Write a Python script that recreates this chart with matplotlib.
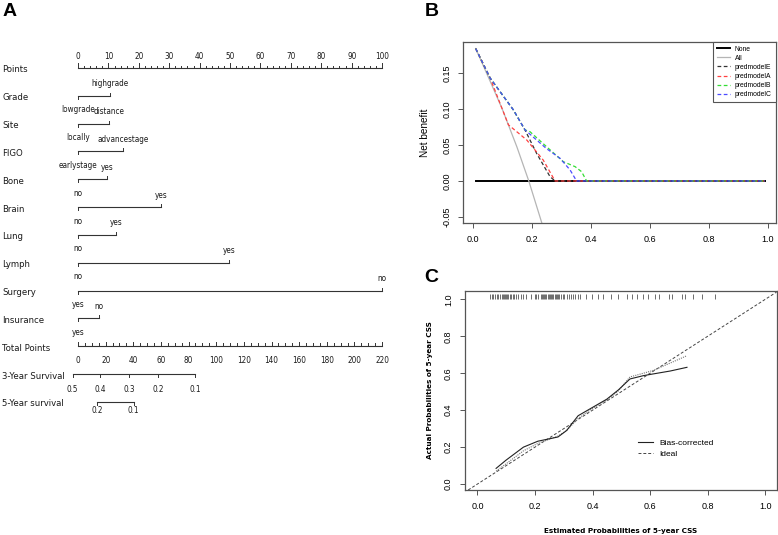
import matplotlib.pyplot as plt
import numpy as np
from matplotlib.lines import Line2D

plt.rcParams['font.family'] = ['Liberation Sans', 'DejaVu Sans']

# ---------------- A: nomogram ----------------
row_names = ['Points', 'Grade', 'Site', 'FIGO', 'Bone', 'Brain', 'Lung', 'Lymph',
             'Surgery', 'Insurance', 'Total Points', '3-Year Survival', '5-Year survival']
var_levels = [['lowgrade', 'highgrade'], ['locally', 'distance'], ['earlystage', 'advancestage'],
              ['no', 'yes'], ['no', 'yes'], ['no', 'yes'], ['no', 'yes'],
              ['yes', 'no'], ['yes', 'no']]
var_points = [[0, 10.5], [0, 10.2], [0, 14.9], [0, 9.6], [0, 27.2], [0, 12.4], [0, 49.6],
              [0, 100], [0, 6.9]]
points_ticks = np.arange(0, 101, 10)
total_ticks = np.arange(0, 221, 20)
max_total = 220
surv3_labels = ['0.5', '0.4', '0.3', '0.2', '0.1']
surv3_total = [-3.9, 16.1, 37.1, 58.1, 84.9]
surv5_labels = ['0.2', '0.1']
surv5_total = [13.7, 40.2]

# ---------------- B: decision curves ----------------
thr_none = [0.01, 0.99]
nb_none = [0, 0]
thr_all = [0.01, 0.05, 0.10, 0.15, 0.19, 0.24]
nb_all = [0.184, 0.147, 0.10, 0.047, 0.0, -0.066]
thr_E = [0.01, 0.059, 0.138, 0.177, 0.217, 0.262, 0.279, 0.99]
nb_E = [0.184, 0.143, 0.0986, 0.071, 0.038, 0.006, 0.0, 0.0]
thr_A = [0.01, 0.059, 0.121, 0.183, 0.239, 0.279, 0.99]
nb_A = [0.184, 0.143, 0.078, 0.057, 0.029, 0.0, 0.0]
thr_B = [0.01, 0.059, 0.138, 0.177, 0.194, 0.25, 0.307, 0.347, 0.369, 0.386, 0.99]
nb_B = [0.184, 0.143, 0.0986, 0.071, 0.0685, 0.0477, 0.0268, 0.0199, 0.0129, 0.0, 0.0]
thr_C = [0.01, 0.059, 0.138, 0.177, 0.25, 0.296, 0.33, 0.352, 0.99]
nb_C = [0.184, 0.143, 0.0986, 0.071, 0.045, 0.0315, 0.0153, 0.0, 0.0]

# ---------------- C: calibration ----------------
cal_x = [0.065, 0.10, 0.16, 0.21, 0.28, 0.31, 0.35, 0.40, 0.45, 0.49, 0.53, 0.577, 0.61, 0.67, 0.728]
cal_bias = [0.085, 0.13, 0.20, 0.232, 0.255, 0.29, 0.37, 0.415, 0.46, 0.51, 0.569, 0.587, 0.596, 0.612, 0.632]
cal_app = [0.07, 0.11, 0.18, 0.22, 0.26, 0.29, 0.355, 0.41, 0.455, 0.505, 0.58, 0.60, 0.615, 0.655, 0.695]
rug_x = [0.045, 0.05, 0.055, 0.06, 0.068, 0.072, 0.078, 0.085, 0.088, 0.092, 0.096, 0.10,
         0.104, 0.108, 0.112, 0.118, 0.122, 0.128, 0.135, 0.142, 0.15, 0.158, 0.17, 0.186,
         0.2, 0.205, 0.212, 0.22, 0.224, 0.228, 0.232, 0.236, 0.24, 0.244, 0.248, 0.252,
         0.256, 0.26, 0.264, 0.268, 0.272, 0.276, 0.28, 0.285, 0.29, 0.296, 0.302, 0.31,
         0.318, 0.325, 0.332, 0.34, 0.348, 0.357, 0.378, 0.398, 0.42, 0.435, 0.464, 0.49,
         0.519, 0.537, 0.556, 0.577, 0.594, 0.618, 0.632, 0.664, 0.676, 0.71, 0.722, 0.75,
         0.78, 0.826]

fig = plt.figure(figsize=(7.78, 5.35), dpi=100)
arial = 'Liberation Sans'

# ===== panel A =====
axA = fig.add_axes([0, 1 - 420 / 535, 400 / 778, 420 / 535])
axA.set_xlim(-25.66, 105.9)
axA.set_ylim(12.648, -2.443)
axA.axis('off')
px = 1 / 27.83  # one pixel in row units
lc = '#333333'
fsA = 6.8
fsT = 5.9
nar = dict(family='DejaVu Sans', fontstretch='condensed', color='#1a1a1a')

for i, name in enumerate(row_names):
    axA.text(-25.0, i + 2 * px, name, ha='left', va='center', fontsize=fsA, **nar)

# points scale
axA.plot([0, 100], [0, 0], color=lc, lw=0.8)
for v in np.arange(0, 101, 2):
    ln = 4.7 * px if v % 10 == 0 else 2.3 * px
    axA.plot([v, v], [0, -ln], color=lc, lw=0.7)
for v in points_ticks:
    axA.text(v, -11 * px, str(v), ha='center', va='center', fontsize=fsT, **nar)

# variables
for k, (levels, pts) in enumerate(zip(var_levels, var_points)):
    r = k + 1
    axA.plot([min(pts), max(pts)], [r, r], color=lc, lw=0.8)
    axA.plot([pts[0], pts[0]], [r, r + 3 * px], color=lc, lw=0.7)
    axA.plot([pts[1], pts[1]], [r, r - 3 * px], color=lc, lw=0.7)
    axA.text(pts[0], r + 14 * px, levels[0], ha='center', va='center', fontsize=fsT, **nar)
    axA.text(pts[1], r - 12 * px, levels[1], ha='center', va='center', fontsize=fsT, **nar)

# total points
r = 10
axA.plot([0, 100], [r, r], color=lc, lw=0.8)
for v in np.arange(0, max_total + 1, 5):
    ln = 4 * px if v % 20 == 0 else 3 * px
    axA.plot([v * 100 / max_total] * 2, [r, r - ln], color=lc, lw=0.7)
for v in total_ticks:
    axA.text(v * 100 / max_total, r + 14 * px, str(v), ha='center', va='center',
             fontsize=fsT, **nar)

# survival scales
for r, labs, tot, off in [(11, surv3_labels, surv3_total, 15), (12, surv5_labels, surv5_total, 9)]:
    xs = [t * 100 / max_total for t in tot]
    axA.plot([xs[0], xs[-1]], [r, r], color=lc, lw=0.8)
    for x, lab in zip(xs, labs):
        axA.plot([x, x], [r, r + 3 * px], color=lc, lw=0.7)
        axA.text(x, r + off * px, lab, ha='center', va='center', fontsize=fsT, **nar)

# ===== panel B =====
spine_c = '#555555'
axB = fig.add_axes([463.3 / 778, 1 - 223.3 / 535, 312.4 / 778, 181.6 / 535])
dash = (0, (3, 2))
axB.plot(thr_none, nb_none, color='black', lw=1.4, label='None')
axB.plot(thr_all, nb_all, color='#b5b5b5', lw=0.9, label='All')
axB.plot(thr_E, nb_E, color='#333333', lw=0.9, ls=dash, label='predmodelE')
axB.plot(thr_A, nb_A, color='#ff4040', lw=0.9, ls=dash, label='predmodelA')
axB.plot(thr_B, nb_B, color='#33dd33', lw=0.9, ls=dash, label='predmodelB')
axB.plot(thr_C, nb_C, color='#4b4bff', lw=0.9, ls=dash, label='predmodelC')
axB.set_xlim(-0.032, 1.027)
axB.set_ylim(-0.0588, 0.1935)
axB.set_xticks([0, 0.2, 0.4, 0.6, 0.8, 1.0])
axB.set_xticklabels(['0.0', '0.2', '0.4', '0.6', '0.8', '1.0'], family=arial)
axB.set_yticks([-0.05, 0, 0.05, 0.10, 0.15])
axB.set_yticklabels(['-0.05', '0.00', '0.05', '0.10', '0.15'], rotation=90, va='center',
                    family=arial)
axB.set_ylabel('Net benefit', fontsize=7.2, family=arial)
axB.yaxis.set_label_coords(-0.107, 0.5)
leg = axB.legend(loc='upper right', borderaxespad=0, handlelength=1.9,
                 handletextpad=0.7, labelspacing=0.3, fancybox=False, framealpha=1,
                 borderpad=0.6, prop={'size': 4.9, 'family': arial})
leg.get_frame().set_edgecolor(spine_c)
leg.get_frame().set_linewidth(0.8)

# ===== panel C =====
axC = fig.add_axes([465 / 778, 1 - 490 / 535, 311.5 / 778, 199 / 535])
axC.axline((0, 0), (1, 1), color='#444444', lw=0.7, ls=(0, (3, 2)))
axC.plot(cal_x, cal_app, color='#777777', lw=0.8, ls=(0, (1, 1)))
axC.plot(cal_x, cal_bias, color='#222222', lw=0.8)
axC.vlines(rug_x, 0.962, 0.985, color='#333333', lw=0.5,
           transform=axC.get_xaxis_transform())
axC.set_xlim(-0.043, 1.039)
axC.set_ylim(-0.032, 1.045)
ticks = [0, 0.2, 0.4, 0.6, 0.8, 1.0]
tl = ['0.0', '0.2', '0.4', '0.6', '0.8', '1.0']
axC.set_xticks(ticks)
axC.set_xticklabels(tl, family=arial)
axC.set_yticks(ticks)
axC.set_yticklabels(tl, rotation=90, va='center', family=arial)
axC.set_xlabel('Estimated Probabilities of 5-year CSS', family='DejaVu Sans',
               fontweight='bold', fontsize=5.2)
axC.xaxis.set_label_coords(0.5, -0.19)
axC.set_ylabel('Actual Probabilities of 5-year CSS', family='DejaVu Sans',
               fontweight='bold', fontsize=5.2)
axC.yaxis.set_label_coords(-0.103, 0.5)
handles = [Line2D([], [], color='#222222', lw=0.8),
           Line2D([], [], color='#444444', lw=0.7, ls=(0, (3, 2)))]
axC.legend(handles, ['Bias-corrected', 'Ideal'], loc='upper left', bbox_to_anchor=(0.555, 0.255),
           frameon=False, borderaxespad=0, borderpad=0, handlelength=1.8, handletextpad=0.8,
           labelspacing=0.36, prop={'size': 6, 'family': arial})

for ax in (axB, axC):
    for s in ax.spines.values():
        s.set_color(spine_c)
        s.set_linewidth(0.9)
    ax.tick_params(direction='out', length=3.6, width=0.7, color=spine_c, labelsize=6.5, pad=5)

# panel letters
for lab, x, y in [('A', 9.5, 11.7), ('B', 431.5, 11.5), ('C', 431.5, 278)]:
    fig.text(x / 778, 1 - y / 535, lab, ha='center', va='center', fontsize=14,
             fontweight='bold', family=arial)

fig.savefig('out.png', dpi=100)
